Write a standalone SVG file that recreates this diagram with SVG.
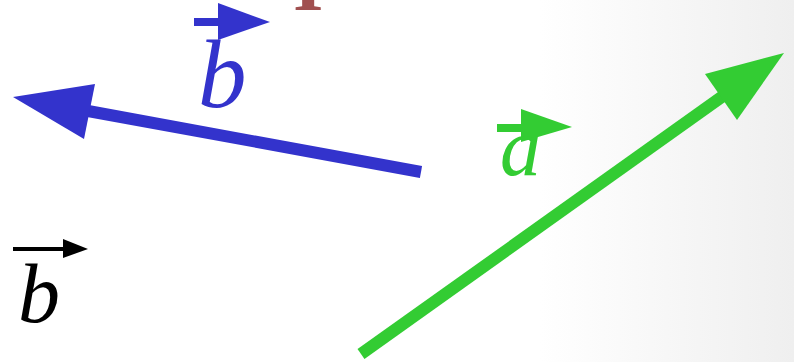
<svg xmlns="http://www.w3.org/2000/svg" width="794" height="362" viewBox="0 0 794 362">
<style>
.lbl{font-family:"Liberation Serif","Times New Roman",serif;font-style:italic}
.blue{fill:#3333cc}
.green{fill:#33cc33}
.black{fill:#000}
</style>
<defs>
<linearGradient id="bg" x1="0" y1="0" x2="794" y2="0" gradientUnits="userSpaceOnUse">
<stop offset="0.68" stop-color="#ffffff"/>
<stop offset="1" stop-color="#efefef"/>
</linearGradient>
</defs>
<rect width="794" height="362" fill="url(#bg)"/>
<text x="293" y="10" font-family="Liberation Serif, serif" font-weight="bold" font-size="78" fill="#a05050">I</text>
<g id="connectors">
<g id="vec-b-blue">
<line x1="421" y1="172" x2="88" y2="111" stroke="#3333cc" stroke-width="12"/>
<polygon points="13,97 95,84 84,139" class="blue"/>
</g>
<g id="vec-a-green">
<line x1="361" y1="354" x2="723" y2="96" stroke="#33cc33" stroke-width="12"/>
<polygon points="784,53 705,74 737,120" class="green"/>
</g>
</g>
<g id="label-b-blue">
<rect x="194" y="18" width="25" height="8" class="blue"/>
<polygon points="218,3 270,22 218,40" class="blue"/>
<text x="198" y="107" font-size="97" class="lbl blue">b</text>
</g>
<g id="label-a-green">
<rect x="497" y="124" width="25" height="8" class="green"/>
<polygon points="521,109 572,127 521,142" class="green"/>
<text x="500" y="175" font-size="82" class="lbl green">a</text>
</g>
<g id="label-b-black">
<rect x="13" y="247" width="51" height="4" class="black"/>
<polygon points="63,239 88,249 63,258" class="black"/>
<text x="18" y="322" font-size="84" class="lbl black">b</text>
</g>
</svg>
